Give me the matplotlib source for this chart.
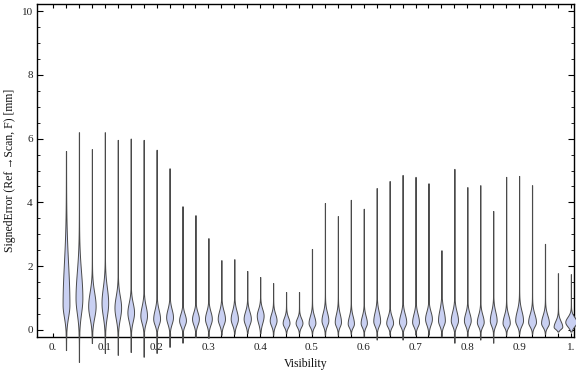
import matplotlib
matplotlib.use("Agg")
import matplotlib.pyplot as plt
import numpy as np

# ── data (one violin per visibility bin) ────────────────────────────────────
visibility = [0.025, 0.05, 0.075, 0.1, 0.125, 0.15, 0.175, 0.2, 0.225, 0.25,
              0.275, 0.3, 0.325, 0.35, 0.375, 0.4, 0.425, 0.45, 0.475, 0.5,
              0.525, 0.55, 0.575, 0.6, 0.625, 0.65, 0.675, 0.7, 0.725, 0.75,
              0.775, 0.8, 0.825, 0.85, 0.875, 0.9, 0.925, 0.95, 0.975, 1.0]

err_max = [5.61, 6.20, 5.67, 6.20, 5.96, 6.00, 5.96, 5.65, 5.07, 3.88,
           3.60, 2.88, 2.19, 2.22, 1.85, 1.66, 1.47, 1.19, 1.19, 2.54,
           3.98, 3.57, 4.08, 3.80, 4.45, 4.67, 4.86, 4.80, 4.60, 2.50,
           5.05, 4.48, 4.54, 3.73, 4.80, 4.83, 4.54, 2.70, 1.78, 1.75]

err_min = [-0.63, -1.00, -0.41, -0.72, -0.78, -0.69, -0.84, -0.72, -0.53, -0.40,
           -0.22, -0.25, -0.15, -0.12, -0.10, -0.10, -0.15, -0.10, -0.10, -0.12,
           -0.15, -0.15, -0.12, -0.20, -0.30, -0.15, -0.30, -0.15, -0.15, -0.20,
           -0.40, -0.20, -0.30, -0.40, -0.15, -0.12, -0.12, -0.12, -0.05, -0.05]

err_mode = [0.80, 1.00, 0.75, 0.85, 0.70, 0.55, 0.45, 0.35, 0.40, 0.30,
            0.35, 0.35, 0.35, 0.35, 0.35, 0.45, 0.30, 0.22, 0.22, 0.22,
            0.30, 0.25, 0.20, 0.22, 0.28, 0.22, 0.25, 0.25, 0.35, 0.30,
            0.30, 0.30, 0.25, 0.30, 0.22, 0.30, 0.25, 0.22, 0.10, 0.25]

# upper end of the bulk of the distribution
body_top = [3.60, 2.80, 1.70, 1.90, 1.50, 1.20, 1.10, 0.95, 0.95, 0.75,
            0.80, 0.85, 0.90, 0.90, 0.85, 0.90, 0.75, 0.60, 0.55, 0.70,
            0.85, 0.80, 0.70, 0.70, 0.90, 0.65, 0.80, 0.80, 0.85, 1.00,
            0.90, 0.80, 0.75, 0.90, 0.75, 0.95, 0.80, 0.75, 0.50, 0.60]

# relative peak density (violin half-width)
peak_density = [3.3, 3.3, 3.6, 3.2, 3.2, 3.2, 3.2, 3.3, 3.3, 3.3,
                3.3, 3.3, 3.5, 3.5, 3.5, 3.3, 3.3, 3.3, 3.3, 3.3,
                3.3, 3.0, 3.0, 3.0, 3.3, 3.3, 3.5, 3.3, 3.3, 3.3,
                3.5, 3.3, 3.3, 3.3, 3.5, 3.8, 3.8, 3.8, 4.2, 5.5]

FILL = "#c9d0f2"
EDGE = "#4a4a4a"
SERIF = ["Liberation Serif", "DejaVu Serif"]
plt.rcParams["font.family"] = SERIF

fig = plt.figure(figsize=(5.76, 3.77), dpi=100)
ax = fig.add_axes([37 / 576, 40 / 377, 537 / 576, 333 / 377])
ax.set_xlim(-0.031, 1.006)
ax.set_ylim(-0.22, 10.22)

px = 1.0 / 518  # x data units per pixel
for x, lo, hi, mode, top, dens in zip(visibility, err_min, err_max, err_mode,
                                       body_top, peak_density):
    y = np.linspace(lo, hi, 500)
    s_up = (top - mode) / 2.2
    s_lo = max(mode + 0.05, 0.08) / 2.2
    g = np.where(y >= mode,
                 np.exp(-0.5 * ((y - mode) / s_up) ** 2),
                 np.exp(-0.5 * ((y - mode) / s_lo) ** 2))
    hw = (dens * g + 0.12) * px
    ax.fill_betweenx(y, x - hw, x + hw, facecolor=FILL, edgecolor=EDGE,
                     linewidth=0.7, clip_on=False, zorder=3)

# ── frame & ticks ──────────────────────────────────────────────────────────
for s in ax.spines.values():
    s.set_linewidth(1.0)
    s.set_color("black")

xt = [0, 0.1, 0.2, 0.3, 0.4, 0.5, 0.6, 0.7, 0.8, 0.9, 1.0]
ax.set_xticks(xt)
ax.set_xticklabels(["0.", "0.1", "0.2", "0.3", "0.4", "0.5", "0.6", "0.7",
                    "0.8", "0.9", "1."])
ax.set_xticks([0] + visibility, minor=True)
ax.set_yticks([0, 2, 4, 6, 8, 10])
ax.set_yticklabels(["0", "2", "4", "6", "8", "10"])
ax.set_yticks(np.arange(0, 10.01, 0.5), minor=True)

ax.tick_params(axis="x", which="both", direction="in", top=True,
               length=3, width=0.8, labelsize=8, pad=4, colors="black",
               labelcolor="#222222")
ax.tick_params(axis="y", which="major", direction="in", right=True,
               length=4.5, width=0.8, labelsize=8, pad=3, labelcolor="#222222")
ax.tick_params(axis="y", which="minor", direction="in", right=True,
               length=2.5, width=0.6)

ax.set_xlabel("Visibility", fontsize=8.5, labelpad=5, color="#111111")
ax.set_ylabel("SignedError (Ref\u2009\u2192Scan, F) [mm]", fontsize=8.5,
              labelpad=4, color="#111111")

fig.savefig("out.png", dpi=100, facecolor="white")
